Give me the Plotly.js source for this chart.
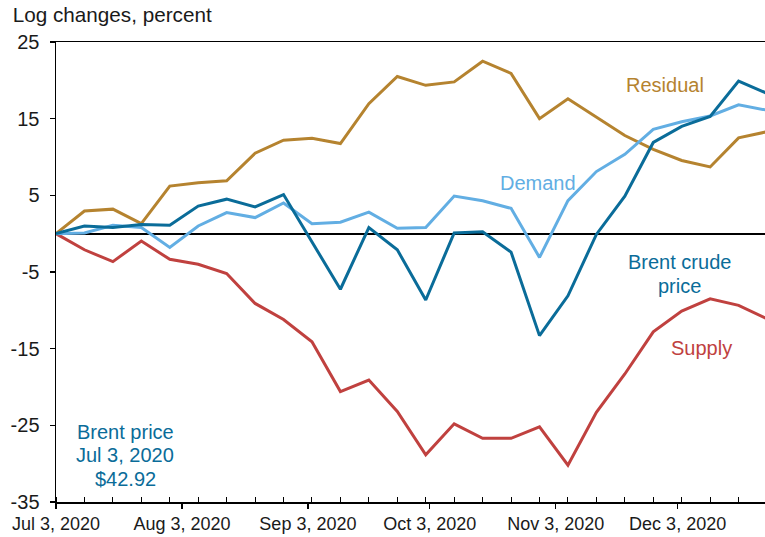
<!DOCTYPE html>
<html>
<head>
<meta charset="utf-8">
<script src="https://cdn.plot.ly/plotly-3.0.1.min.js"></script>
<style>html,body{margin:0;padding:0;background:#fff;}#chart{width:765px;height:537px;}</style>
</head>
<body>
<div id="chart"></div>
<script>
var dates = ["2020-07-03","2020-07-10","2020-07-17","2020-07-24","2020-07-31","2020-08-07","2020-08-14","2020-08-21","2020-08-28","2020-09-04","2020-09-11","2020-09-18","2020-09-25","2020-10-02","2020-10-09","2020-10-16","2020-10-23","2020-10-30","2020-11-06","2020-11-13","2020-11-20","2020-11-27","2020-12-04","2020-12-11","2020-12-18","2020-12-25"];
var brent    = [0, 1.0, 0.8, 1.2, 1.1, 3.6, 4.5, 3.5, 5.1, -1.0, -7.25, 0.8, -2.1, -8.65, 0.1, 0.25, -2.4, -13.3, -8.1, -0.1, 4.9, 11.9, 14.0, 15.3, 19.9, 18.3];
var demand   = [0, 0.1, 1.1, 0.8, -1.8, 1.0, 2.75, 2.1, 4.0, 1.3, 1.5, 2.8, 0.7, 0.8, 4.9, 4.3, 3.3, -3.1, 4.3, 8.1, 10.35, 13.6, 14.6, 15.35, 16.8, 16.1];
var residual = [0, 2.95, 3.2, 1.3, 6.2, 6.65, 6.9, 10.5, 12.2, 12.45, 11.75, 16.95, 20.5, 19.35, 19.8, 22.5, 20.9, 15.0, 17.6, 15.2, 12.8, 11.0, 9.55, 8.7, 12.5, 13.3];
var supply   = [0, -2.1, -3.65, -0.95, -3.35, -4.0, -5.2, -9.1, -11.2, -14.1, -20.6, -19.1, -23.2, -28.85, -24.8, -26.7, -26.7, -25.2, -30.2, -23.3, -18.3, -12.8, -10.1, -8.5, -9.35, -11.1];
var yTicks = [-35, -25, -15, -5, 5, 15, 25];

var cBrent = "#0A6C99", cDemand = "#62AEE3", cResidual = "#B5832F", cSupply = "#C0413F";

function tr(y, c, name) {
  return {x: dates, y: y, type: "scatter", mode: "lines", name: name,
          line: {color: c, width: 3}, hoverinfo: "x+y"};
}
var data = [tr(residual, cResidual, "Residual"), tr(supply, cSupply, "Supply"),
            tr(demand, cDemand, "Demand"), tr(brent, cBrent, "Brent crude price")];

function ann(x, y, text, color) {
  return {x: x, y: y, xref: "x", yref: "y", text: text, showarrow: false,
          xanchor: "center", yanchor: "middle",
          font: {family: "Liberation Sans, Arial, sans-serif", size: 20, color: color}};
}

var layout = {
  width: 765, height: 537,
  margin: {l: 56, r: 0, t: 42, b: 35},
  paper_bgcolor: "#fff", plot_bgcolor: "#fff",
  showlegend: false,
  font: {family: "Liberation Sans, Arial, sans-serif", color: "#1a1a1a"},
  title: {text: "Log changes, percent", xref: "container", yref: "container",
          x: 0.0166, xanchor: "left", y: 0.972, yanchor: "middle",
          font: {family: "Liberation Sans, Arial, sans-serif", size: 20.7, color: "#1a1a1a"}},
  xaxis: {
    type: "date",
    range: ["2020-07-03", "2020-12-24 12:00"],
    tick0: "2020-07-03", dtick: "M1", tickformat: "%b %-d, %Y",
    ticks: "outside", ticklen: 5, tickwidth: 1.2, tickcolor: "#000",
    showline: true, linecolor: "#000", linewidth: 1.5, mirror: true,
    showgrid: false, zeroline: false,
    tickfont: {size: 18, color: "#1a1a1a"},
    minor: {tick0: "2020-07-03", dtick: 7 * 86400000, ticks: "inside", ticklen: 5,
            tickwidth: 1, tickcolor: "#000", showgrid: false}
  },
  yaxis: {
    range: [-35, 25],
    tickvals: yTicks, ticktext: yTicks.map(String),
    ticks: "outside", ticklen: 5, tickwidth: 1.2, tickcolor: "#000",
    showline: true, linecolor: "#000", linewidth: 1.5,
    showgrid: false,
    zeroline: true, zerolinecolor: "#000", zerolinewidth: 2,
    tickfont: {size: 20, color: "#1a1a1a"},
    ticklabelstandoff: 6
  },
  annotations: [
    ann("2020-11-29 19:00", 19.35, "Residual", cResidual),
    ann("2020-10-29 14:00", 6.55, "Demand", cDemand),
    ann("2020-12-03 08:00", -3.73, "Brent crude", cBrent),
    ann("2020-12-03 08:00", -6.85, "price", cBrent),
    ann("2020-12-08 22:00", -14.93, "Supply", cSupply),
    ann("2020-07-20", -25.82, "Brent price", cBrent),
    ann("2020-07-20", -28.82, "Jul 3, 2020", cBrent),
    ann("2020-07-20", -31.95, "$42.92", cBrent)
  ]
};

Plotly.newPlot("chart", data, layout, {displayModeBar: false, staticPlot: true});
</script>
</body>
</html>
